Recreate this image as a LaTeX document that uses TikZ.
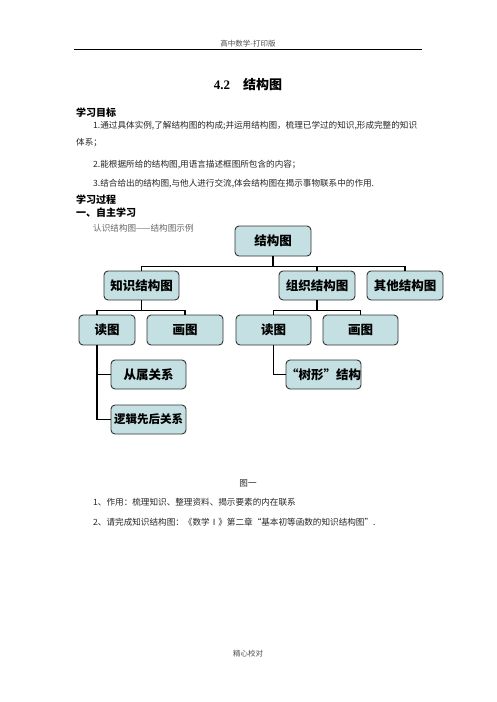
\documentclass[tikz,border=0pt]{standalone}
\usepackage{fontspec}
\setmainfont{Liberation Serif}
\newfontfamily\cjk{Noto Sans CJK SC}
\usepackage{tikz}

\definecolor{boxfill}{RGB}{196,224,226}
\tikzset{
  box/.style={draw=black!80, fill=boxfill, rounded corners=4pt, line width=0.9pt,
    minimum height=29pt, inner sep=0pt, font=\cjk\bfseries\fontsize{12.5}{14}\selectfont},
  link/.style={line width=1.6pt},
  txt/.style={anchor=west, inner sep=0pt, text=black!85, font=\cjk\fontsize{8.6}{10}\selectfont},
  heading/.style={anchor=west, inner sep=0pt, font=\cjk\bfseries\fontsize{10}{12}\selectfont}
}

\begin{document}
\begin{tikzpicture}[x=1pt,y=-1pt]
        \useasboundingbox [fill=white] (0,0) rectangle (496,702);

        %Header
        \node [font=\cjk\fontsize{7.5}{9}\selectfont, text=black!70] (head) at (248,44) {高中数学-打印版};
        \draw [line width=0.8pt] (74,49.5) -- (422,49.5);

        %Title
        \node [font=\bfseries\fontsize{13}{15}\selectfont] (title) at (248,85) {4.2\quad{\cjk 结构图}};

        %Goals
        \node [heading] (goal) at (76,113) {学习目标};
        \node [txt] (goal1) at (93,126) {1.通过具体实例,了解结构图的构成;并运用结构图，梳理已学过的知识,形成完整的知识};
        \node [txt] (goal1b) at (76,143) {体系；};
        \node [txt] (goal2) at (93,165) {2.能根据所给的结构图,用语言描述框图所包含的内容；};
        \node [txt] (goal3) at (93,184) {3.结合给出的结构图,与他人进行交流,体会结构图在揭示事物联系中的作用.};
        \node [heading] (proc) at (76,200) {学习过程};
        \node [heading] (self) at (76,213) {一、自主学习};
        \node [txt, text=black!60] (intro) at (93,228) {认识结构图——结构图示例};

        %Top level
        \node [box, minimum width=76pt, minimum height=30pt] (root) at (273,241) {结构图};
        \node [box, minimum width=75pt] (know) at (141.5,285.5) {知识结构图};
        \node [box, minimum width=76pt] (org) at (317,285.5) {组织结构图};
        \node [box, minimum width=76pt] (other) at (405,285.5) {其他结构图};
        \path (root.south) ++(0,10) coordinate (bus1);
        \draw [link] (root.south) -- (bus1);
        \draw [link] (know.north) |- (bus1) -| (other.north);
        \draw [link] (bus1) -| (org.north);

        %Second level
        \node [box, minimum width=56pt, minimum height=30pt] (read1) at (107,330) {读图};
        \node [box, minimum width=76pt, minimum height=30pt] (draw1) at (185,330) {画图};
        \node [box, minimum width=75pt, minimum height=30pt] (read2) at (273.5,330) {读图};
        \node [box, minimum width=75pt, minimum height=30pt] (draw2) at (360.5,330) {画图};
        \coordinate (read1top) at ([xshift=-10pt]read1.north);
        \coordinate (read1bot) at ([xshift=-10pt]read1.south);
        \path (know.south) ++(0,10) coordinate (bus2);
        \path (org.south) ++(0,10) coordinate (bus3);
        \draw [link] (know.south) -- (bus2);
        \draw [link] (read1top) |- (bus2) -| (draw1.north);
        \draw [link] (org.south) -- (bus3);
        \draw [link] (read2.north) |- (bus3) -| (draw2.north);

        %Third level
        \node [box, minimum width=75pt] (sub) at (148.5,374.5) {从属关系};
        \node [box, minimum width=75pt, font=\cjk\bfseries\fontsize{11.5}{13}\selectfont] (logic) at (148.5,419.5) {逻辑先后关系};
        \node [box, minimum width=75pt] (tree) at (323.5,374.5) {“树形”结构};
        \draw [link] (read1bot) |- (logic.west);
        \draw [link] (read1bot) |- (sub.west);
        \draw [link] (read2.south) |- (tree.west);

        %Below the figure
        \node [txt, anchor=center] (fig) at (248,483) {图一};
        \node [txt] (use) at (93,502) {1、作用：梳理知识、整理资料、揭示要素的内在联系};
        \node [txt] (task) at (93,522) {2、请完成知识结构图：《数学Ⅰ》第二章“基本初等函数的知识结构图”.};

        %Footer
        \node [font=\cjk\fontsize{7.5}{9}\selectfont, text=black!70] (foot) at (248,654) {精心校对};

\end{tikzpicture}
\end{document}
